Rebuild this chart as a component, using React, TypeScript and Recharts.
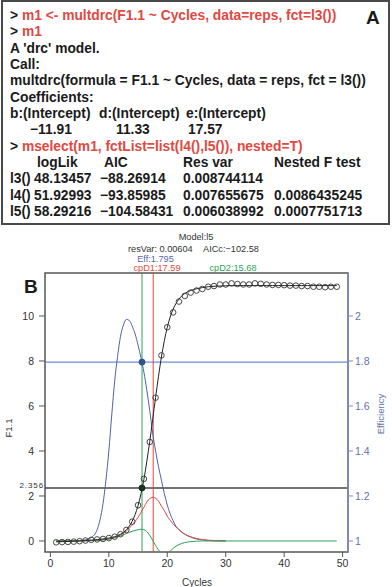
import React from "react";
import {
  ComposedChart,
  Line,
  Scatter,
  XAxis,
  YAxis,
  ReferenceLine,
  ReferenceArea,
  ReferenceDot,
} from "recharts";

// raw fluorescence, cycles 1..49
const cycles = [
  1, 2, 3, 4, 5, 6, 7, 8, 9, 10, 11, 12, 13, 14, 15, 16, 17, 18, 19, 20, 21, 22,
  23, 24, 25, 26, 27, 28, 29, 30, 31, 32, 33, 34, 35, 36, 37, 38, 39, 40, 41, 42,
  43, 44, 45, 46, 47, 48, 49,
];
const observed = [
  -0.06, -0.05, -0.04, -0.03, -0.01, 0.02, 0.05, 0.07, 0.09, 0.13, 0.19, 0.3,
  0.49, 0.86, 1.59, 2.76, 4.4, 6.37, 8.25, 9.5, 10.16, 10.64, 10.89, 11.04,
  11.13, 11.2, 11.3, 11.33, 11.4, 11.4, 11.45, 11.42, 11.4, 11.4, 11.45, 11.43,
  11.4, 11.38, 11.38, 11.37, 11.35, 11.35, 11.33, 11.33, 11.3, 11.3, 11.28,
  11.3, 11.3,
];
const fitted = [
  -0.04, -0.03, -0.02, -0.01, 0.0, 0.02, 0.04, 0.06, 0.09, 0.13, 0.19, 0.3, 0.5,
  0.88, 1.57, 2.74, 4.42, 6.38, 8.18, 9.5, 10.3, 10.75, 11.0, 11.13, 11.21,
  11.26, 11.3, 11.32, 11.33, 11.34, 11.35, 11.35, 11.35, 11.35, 11.35, 11.35,
  11.35, 11.35, 11.35, 11.35, 11.35, 11.35, 11.35, 11.35, 11.35, 11.35, 11.35,
  11.35, 11.35,
];

// efficiency + derivative curves
const curveCycles = [
  1, 2, 3, 4, 5, 6, 7, 8, 8.5, 9, 9.5, 10, 10.5, 11, 11.5, 12, 12.5, 13, 13.5,
  14, 14.5, 15, 15.5, 16, 16.5, 17, 17.5, 18, 18.5, 19, 19.5, 20, 20.5, 21, 21.5,
  22, 23, 24, 25, 26, 27, 28, 29, 30,
];
const efficiency = [
  1.0, 1.0, 1.0, 1.001, 1.002, 1.005, 1.015, 1.05, 1.095, 1.165, 1.27, 1.4,
  1.56, 1.71, 1.82, 1.91, 1.96, 1.985, 1.98, 1.955, 1.92, 1.87, 1.815, 1.75,
  1.67, 1.58, 1.48, 1.4, 1.33, 1.27, 1.21, 1.16, 1.12, 1.09, 1.065, 1.05, 1.03,
  1.017, 1.009, 1.005, 1.002, 1.001, 1.0, 1.0,
];
const firstDeriv = [
  0, 0, 0, 0, 0.003, 0.006, 0.012, 0.025, 0.035, 0.05, 0.07, 0.09, 0.12, 0.16,
  0.21, 0.27, 0.35, 0.45, 0.57, 0.71, 0.87, 1.05, 1.27, 1.5, 1.73, 1.88, 1.94,
  1.9, 1.77, 1.55, 1.35, 1.1, 0.92, 0.76, 0.62, 0.5, 0.3, 0.19, 0.11, 0.065,
  0.035, 0.02, 0.01, 0.005,
];
const secondDerivCycles = [...curveCycles, 35, 40, 45, 49];
const secondDeriv = [
  0, 0, 0, 0, 0.005, 0.01, 0.02, 0.03, 0.04, 0.05, 0.065, 0.085, 0.11, 0.14,
  0.18, 0.23, 0.28, 0.33, 0.38, 0.43, 0.47, 0.5, 0.52, 0.5, 0.42, 0.25, 0.03,
  -0.2, -0.4, -0.54, -0.6, -0.55, -0.45, -0.33, -0.23, -0.16, -0.07, -0.03,
  -0.01, 0, 0, 0, 0, 0, 0, 0, 0, 0,
];

const xTicks = [0, 10, 20, 30, 40, 50];
const fTicks = [0, 2, 4, 6, 8, 10];
const effTicks = [1, 1.2, 1.4, 1.6, 1.8, 2];

const cpD1 = 17.59;
const cpD2 = 15.68;
const effAtCpD2 = 1.795;
const fAtCpD2 = 2.356;

// panel A console text
const coefNames = ["b:(Intercept)", "d:(Intercept)", "e:(Intercept)"];
const coefValues = ["\u221211.91", "11.33", "17.57"];
const tableHeader = ["logLik", "AIC", "Res var", "Nested F test"];
const tableRows = [
  ["l3()", "48.13457", "\u221288.26914", "0.008744114", ""],
  ["l4()", "51.92993", "\u221293.85985", "0.007655675", "0.0086435245"],
  ["l5()", "58.29216", "\u2212104.58431", "0.006038992", "0.0007751713"],
];

const FONT = "Arial, 'Liberation Sans', Helvetica, sans-serif";
const RED = "#e2483f";
const BLUE = "#4f62a8";
const HBLUE = "#4a6fd0";
const GREEN = "#2aa35a";
const AXBLUE = "#7d8cc4";

const curveData = curveCycles.map((c, i) => ({
  x: c,
  eff: efficiency[i],
  d1: firstDeriv[i],
}));
const d2Data = secondDerivCycles.map((c, i) => ({ x: c, d2: secondDeriv[i] }));
const obsData = cycles.map((c, i) => ({ x: c, y: observed[i] }));
const fitData = cycles.map((c, i) => ({ x: c, y: fitted[i] }));

const lineH = 16.35;
const lineTop = (i: number) => 15.8 + lineH * i - 8;

function Row({ i, children }: { i: number; children: React.ReactNode }) {
  return (
    <div
      style={{
        position: "absolute",
        left: 0,
        top: lineTop(i),
        height: 16,
        lineHeight: "16px",
        width: 388,
      }}
    >
      {children}
    </div>
  );
}

function At({ x, children, color }: { x: number; children: React.ReactNode; color?: string }) {
  return (
    <span style={{ position: "absolute", left: x, top: 0, color: color || "#1a1a1a", whiteSpace: "pre" }}>
      {children}
    </span>
  );
}

function Prompt({ x, text }: { x: number; text: string }) {
  return (
    <span style={{ position: "absolute", left: x, whiteSpace: "pre" }}>
      <span style={{ color: "#1a1a1a" }}>{"> "}</span>
      <span style={{ color: RED }}>{text}</span>
    </span>
  );
}

const ringShape = (p: any) => (
  <circle cx={p.cx} cy={p.cy} r={2.8} fill="none" stroke="#333" strokeWidth={0.9} />
);

export default function App() {
  return (
    <div
      style={{
        position: "absolute",
        left: 0,
        top: 0,
        width: 392,
        height: 587,
        background: "#fff",
        fontFamily: FONT,
        overflow: "hidden",
      }}
    >
      <ComposedChart
        width={392}
        height={587}
        margin={{ top: 273, right: 0, bottom: 0, left: 0 }}
        style={{ position: "absolute", left: 0, top: 0 }}
      >
        <XAxis
          xAxisId="c"
          dataKey="x"
          type="number"
          domain={[-0.92, 50.92]}
          allowDataOverflow
          ticks={xTicks}
          height={35}
          axisLine={false}
          tickSize={5}
          tickMargin={3}
          tickLine={{ stroke: "#555" }}
          tick={{ fontSize: 10.5, fill: "#333", fontFamily: FONT }}
        />
        <YAxis
          yAxisId="f"
          orientation="left"
          type="number"
          domain={[-0.49, 11.91]}
          allowDataOverflow
          ticks={fTicks}
          width={45}
          axisLine={false}
          tickSize={6}
          tickMargin={5}
          tickLine={{ stroke: "#555" }}
          tick={{ fontSize: 10.5, fill: "#333", fontFamily: FONT }}
        />
        <YAxis
          yAxisId="eff"
          orientation="right"
          type="number"
          domain={[0.951, 2.191]}
          allowDataOverflow
          ticks={effTicks}
          width={44}
          axisLine={{ stroke: AXBLUE, strokeWidth: 1.5 }}
          tickSize={5}
          tickMargin={2}
          tickLine={{ stroke: AXBLUE }}
          tick={{ fontSize: 10.5, fill: "#6272b0", fontFamily: FONT }}
        />

        <ReferenceArea
          xAxisId="c"
          yAxisId="f"
          x1={-0.92}
          x2={50.92}
          y1={-0.49}
          y2={11.91}
          fill="none"
          stroke="#555"
          strokeWidth={1.5}
          ifOverflow="visible"
        />

        <ReferenceLine xAxisId="c" yAxisId="eff" y={effAtCpD2} stroke={HBLUE} strokeWidth={1} />
        <ReferenceLine
          xAxisId="c"
          yAxisId="f"
          y={fAtCpD2}
          stroke="#444"
          strokeWidth={1.4}
          label={{
            value: "2.356",
            position: "left",
            offset: 1,
            dy: -3,
            fontSize: 8,
            letterSpacing: 0.9,
            fill: "#333",
            fontFamily: FONT,
          }}
        />
        <ReferenceLine xAxisId="c" yAxisId="f" x={cpD2} stroke={GREEN} strokeWidth={1} />
        <ReferenceLine xAxisId="c" yAxisId="f" x={cpD1} stroke={RED} strokeWidth={1} />

        <Line
          xAxisId="c"
          yAxisId="eff"
          data={curveData}
          dataKey="eff"
          type="monotone"
          stroke={BLUE}
          strokeWidth={1}
          dot={false}
          isAnimationActive={false}
        />
        <Line
          xAxisId="c"
          yAxisId="f"
          data={curveData}
          dataKey="d1"
          type="monotone"
          stroke={RED}
          strokeWidth={1}
          dot={false}
          isAnimationActive={false}
        />
        <Line
          xAxisId="c"
          yAxisId="f"
          data={d2Data}
          dataKey="d2"
          type="monotone"
          stroke={GREEN}
          strokeWidth={1}
          dot={false}
          isAnimationActive={false}
        />
        <Line
          xAxisId="c"
          yAxisId="f"
          data={fitData}
          dataKey="y"
          type="monotone"
          stroke="#222"
          strokeWidth={1}
          dot={false}
          isAnimationActive={false}
        />
        <Scatter
          xAxisId="c"
          yAxisId="f"
          data={obsData}
          dataKey="y"
          shape={ringShape}
          isAnimationActive={false}
        />
        <ReferenceDot xAxisId="c" yAxisId="f" x={cpD2} y={fAtCpD2} r={3} fill="#0e3a1e" stroke="#222" />
        <ReferenceDot xAxisId="c" yAxisId="eff" x={cpD2} y={effAtCpD2} r={3} fill="#2a5a8a" stroke="#3a4a90" />
      </ComposedChart>

      {/* panel A */}
      <div
        style={{
          position: "absolute",
          left: 1,
          top: 0,
          width: 385,
          height: 221,
          border: "2px solid #4a4a4a",
          background: "#fff",
        }}
      />
      <div
        style={{
          position: "absolute",
          left: 10,
          top: 0,
          fontSize: 13.8,
          fontWeight: "bold",
          color: "#1a1a1a",
        }}
      >
        <Row i={0}>
          <Prompt x={0} text="m1 <- multdrc(F1.1 ~ Cycles, data=reps, fct=l3())" />
        </Row>
        <Row i={1}>
          <Prompt x={0} text="m1" />
        </Row>
        <Row i={2}>
          <At x={0}>A 'drc' model.</At>
        </Row>
        <Row i={3}>
          <At x={0}>Call:</At>
        </Row>
        <Row i={4}>
          <At x={0}>multdrc(formula = F1.1 ~ Cycles, data = reps, fct = l3())</At>
        </Row>
        <Row i={5}>
          <At x={0}>Coefficients:</At>
        </Row>
        <Row i={6}>
          <At x={0}>{coefNames[0]}</At>
          <At x={89}>{coefNames[1]}</At>
          <At x={176}>{coefNames[2]}</At>
        </Row>
        <Row i={7}>
          <At x={20}>{coefValues[0]}</At>
          <At x={106}>{coefValues[1]}</At>
          <At x={178}>{coefValues[2]}</At>
        </Row>
        <Row i={8}>
          <Prompt x={0} text="mselect(m1, fctList=list(l4(),l5()), nested=T)" />
        </Row>
        <Row i={9}>
          <At x={27}>{tableHeader[0]}</At>
          <At x={94}>{tableHeader[1]}</At>
          <At x={173}>{tableHeader[2]}</At>
          <At x={264}>{tableHeader[3]}</At>
        </Row>
        {tableRows.map((r, k) => (
          <Row key={k} i={10 + k}>
            <At x={0}>{r[0]}</At>
            <At x={24}>{r[1]}</At>
            <At x={90}>{r[2]}</At>
            <At x={173}>{r[3]}</At>
            <At x={264}>{r[4]}</At>
          </Row>
        ))}
      </div>
      <div
        style={{
          position: "absolute",
          left: 366,
          top: 7,
          fontSize: 19,
          fontWeight: "bold",
          lineHeight: "22px",
          color: "#1a1a1a",
        }}
      >
        A
      </div>

      {/* panel B titles */}
      <div style={{ position: "absolute", left: 24, top: 276, fontSize: 19, fontWeight: "bold", lineHeight: "22px", color: "#1a1a1a" }}>
        B
      </div>
      <div style={{ position: "absolute", left: 196, top: 237, transform: "translate(-50%,-50%)", fontSize: 9.2, color: "#333", whiteSpace: "pre" }}>
        Model:l5
      </div>
      <div style={{ position: "absolute", left: 128, top: 249, transform: "translateY(-50%)", fontSize: 9.2, color: "#333", whiteSpace: "pre" }}>
        resVar: 0.00604
      </div>
      <div style={{ position: "absolute", left: 203, top: 249, transform: "translateY(-50%)", fontSize: 9.2, color: "#333", whiteSpace: "pre" }}>
        AICc:−102.58
      </div>
      <div style={{ position: "absolute", left: 155.5, top: 259, transform: "translate(-50%,-50%)", fontSize: 9.2, color: "#5565b0", whiteSpace: "pre" }}>
        Eff:1.795
      </div>
      <div style={{ position: "absolute", left: 157, top: 268, transform: "translate(-50%,-50%)", fontSize: 9.2, color: RED, whiteSpace: "pre" }}>
        cpD1:17.59
      </div>
      <div style={{ position: "absolute", left: 233, top: 268, transform: "translate(-50%,-50%)", fontSize: 9.2, color: GREEN, whiteSpace: "pre" }}>
        cpD2:15.68
      </div>

      {/* axis titles */}
      <div style={{ position: "absolute", left: 197, top: 582, transform: "translate(-50%,-50%)", fontSize: 10, color: "#333" }}>
        Cycles
      </div>
      <div style={{ position: "absolute", left: 8, top: 428, transform: "translate(-50%,-50%) rotate(-90deg)", fontSize: 9.5, color: "#333" }}>
        F1.1
      </div>
      <div style={{ position: "absolute", left: 380, top: 414, transform: "translate(-50%,-50%) rotate(-90deg)", fontSize: 9.5, color: "#6272b0" }}>
        Efficiency
      </div>
    </div>
  );
}
